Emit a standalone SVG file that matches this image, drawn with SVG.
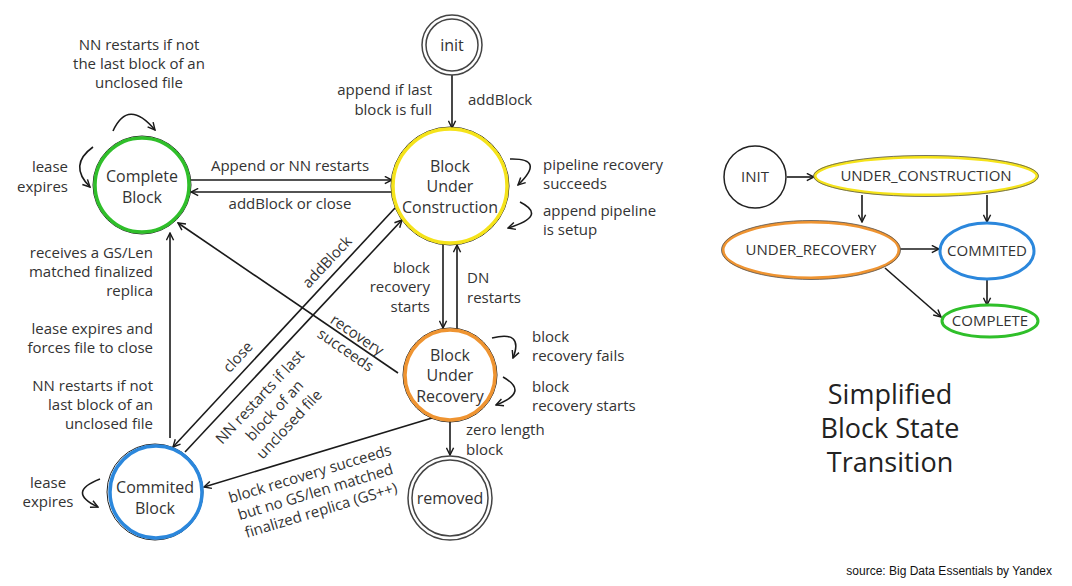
<svg xmlns="http://www.w3.org/2000/svg" width="1072" height="586" viewBox="0 0 1072 586">
<style>
text{font-family:"Open Sans","Noto Sans",sans-serif;fill:#333;}
.lb{font-size:15px;}
.nd{font-size:16px;text-anchor:middle;}
.sm{font-size:15px;text-anchor:middle;}
.e{text-anchor:end;}
.m{text-anchor:middle;}
.c{fill:#fff;}
.ln{fill:none;stroke:#1a1a1a;stroke-width:1.6;marker-end:url(#arr);}
.dbl{fill:none;stroke:#444;stroke-width:1.5;}
.tt{font-size:27px;text-anchor:middle;fill:#222;}
</style>
<defs>
<marker id="arr" viewBox="0 0 10 10" refX="9" refY="5" markerWidth="9" markerHeight="9" markerUnits="userSpaceOnUse" orient="auto">
<path d="M1,1 L9,5 L1,9" fill="none" stroke="#1a1a1a" stroke-width="1.6"/>
</marker>
</defs>
<rect width="1072" height="586" fill="#fff"/>

<g id="connectors">
<path class="ln" d="M452,75 L452,128"/>
<path class="ln" d="M190,180 L392,180"/>
<path class="ln" d="M393,192 L191,192"/>
<path class="ln" d="M113,131 Q128,98 155,130"/>
<path class="ln" d="M93,147 Q68,165 90,187"/>
<path class="ln" d="M510,159 Q546,158 518,185"/>
<path class="ln" d="M520,202 Q548,216 508,228"/>
<path class="ln" d="M170,438 L170,233"/>
<path class="ln" d="M395,208 L173,447"/>
<path class="ln" d="M185,452 L402,220"/>
<path class="ln" d="M398,373 L178,223"/>
<path class="ln" d="M443,243 L443,328"/>
<path class="ln" d="M457,330 L457,245"/>
<path class="ln" d="M492,338 Q524,330 513,358"/>
<path class="ln" d="M503,377 Q530,392 496,405"/>
<path class="ln" d="M450,420 L450,455"/>
<path class="ln" d="M432,418 L204,487"/>
<path class="ln" d="M100,479 Q66,492 98,507"/>
<path class="ln" d="M787,177 L814,177"/>
<path class="ln" d="M862,195 L862,222"/>
<path class="ln" d="M987,195 L987,222"/>
<path class="ln" d="M900,249 L939,249"/>
<path class="ln" d="M885,268 L941,317"/>
<path class="ln" d="M987,279 L987,305"/>
</g>

<g id="labels">
<text class="lb m" x="139" y="50">NN restarts if not</text>
<text class="lb m" x="139" y="69">the last block of an</text>
<text class="lb m" x="139" y="88">unclosed file</text>
<text class="lb e" x="68" y="172">lease</text>
<text class="lb e" x="68" y="192">expires</text>
<text class="lb m" x="290" y="171">Append or NN restarts</text>
<text class="lb m" x="290" y="209">addBlock or close</text>
<text class="lb e" x="432" y="95">append if last</text>
<text class="lb e" x="432" y="115">block is full</text>
<text class="lb" x="468" y="105">addBlock</text>
<text class="lb" x="543" y="170">pipeline recovery</text>
<text class="lb" x="543" y="189">succeeds</text>
<text class="lb" x="543" y="216">append pipeline</text>
<text class="lb" x="543" y="235">is setup</text>
<text class="lb e" x="153" y="258">receives a GS/Len</text>
<text class="lb e" x="153" y="277">matched finalized</text>
<text class="lb e" x="153" y="296">replica</text>
<text class="lb e" x="153" y="334">lease expires and</text>
<text class="lb e" x="153" y="353">forces file to close</text>
<text class="lb e" x="153" y="391">NN restarts if not</text>
<text class="lb e" x="153" y="410">last block of an</text>
<text class="lb e" x="153" y="429">unclosed file</text>
<text class="lb m" transform="translate(327,262) rotate(-47)" y="5">addBlock</text>
<text class="lb m" transform="translate(238,357) rotate(-47)" y="5">close</text>
<g transform="translate(260,397) rotate(-47)">
<text class="lb m" y="5">NN restarts if last</text>
<text class="lb m" y="25">block of an</text>
<text class="lb m" y="45">unclosed file</text>
</g>
<g transform="translate(357,335) rotate(34.3)">
<text class="lb m" y="5">recovery</text>
<text class="lb m" x="-1" y="24">succeeds</text>
</g>
<text class="lb e" x="430" y="273">block</text>
<text class="lb e" x="430" y="292">recovery</text>
<text class="lb e" x="430" y="312">starts</text>
<text class="lb" x="467" y="283">DN</text>
<text class="lb" x="467" y="303">restarts</text>
<text class="lb" x="532" y="342">block</text>
<text class="lb" x="532" y="361">recovery fails</text>
<text class="lb" x="532" y="392">block</text>
<text class="lb" x="532" y="411">recovery starts</text>
<text class="lb" x="466" y="435">zero length</text>
<text class="lb" x="466" y="455">block</text>
<g transform="translate(310,474) rotate(-16.8)">
<text class="lb m" y="5">block recovery succeeds</text>
<text class="lb m" y="24">but no GS/len matched</text>
<text class="lb m" y="43">finalized replica (GS++)</text>
</g>
<text class="lb m" x="48" y="488">lease</text>
<text class="lb m" x="48" y="507">expires</text>
<text class="tt" x="890" y="404">Simplified</text>
<text class="tt" x="890" y="438">Block State</text>
<text class="tt" x="890" y="472">Transition</text>
<text x="1052" y="575" style="font-family:'Liberation Sans',Arial,sans-serif;font-size:12px;text-anchor:end;fill:#111">source: Big Data Essentials by Yandex</text>
</g>

<g id="init">
<circle class="dbl" cx="452" cy="45" r="30"/>
<circle class="dbl" cx="452" cy="45" r="26"/>
<text class="nd" x="452" y="51">init</text>
</g>
<g id="block-under-construction">
<circle cx="450" cy="186" r="59" fill="none" stroke="#222" stroke-width="1"/>
<circle class="c" cx="450" cy="186" r="57" stroke="#f5e31a" stroke-width="3.5"/>
<text class="nd" x="450" y="172">Block</text>
<text class="nd" x="450" y="192">Under</text>
<text class="nd" x="450" y="213">Construction</text>
</g>
<g id="complete-block">
<circle cx="142" cy="185" r="49" fill="none" stroke="#222" stroke-width="1"/>
<circle class="c" cx="142" cy="185" r="47" stroke="#2fbf2a" stroke-width="3.5"/>
<text class="nd" x="142" y="182">Complete</text>
<text class="nd" x="142" y="203">Block</text>
</g>
<g id="block-under-recovery">
<circle cx="450" cy="375" r="47" fill="none" stroke="#222" stroke-width="1"/>
<circle class="c" cx="450" cy="375" r="45" stroke="#ef9431" stroke-width="3.5"/>
<text class="nd" x="450" y="361">Block</text>
<text class="nd" x="450" y="381">Under</text>
<text class="nd" x="450" y="402">Recovery</text>
</g>
<g id="commited-block">
<circle cx="155" cy="492" r="48" fill="none" stroke="#222" stroke-width="1"/>
<circle class="c" cx="156" cy="492" r="46" stroke="#2b87dc" stroke-width="3.5"/>
<text class="nd" x="155" y="493">Commited</text>
<text class="nd" x="155" y="514">Block</text>
</g>
<g id="removed">
<circle class="dbl" cx="450" cy="498" r="42"/>
<circle class="dbl" cx="450" cy="498" r="38"/>
<text class="nd" x="450" y="504">removed</text>
</g>

<g id="s-init">
<circle cx="755" cy="177" r="31" fill="#fff" stroke="#222" stroke-width="1.5"/>
<text class="sm" x="755" y="182">INIT</text>
</g>
<g id="s-under-construction">
<ellipse cx="926" cy="176" rx="111" ry="19" fill="#fff" stroke="#f5e31a" stroke-width="3"/>
<ellipse cx="926" cy="176" rx="112.5" ry="20.5" fill="none" stroke="#555" stroke-width="0.8"/>
<text class="sm" x="926" y="181">UNDER_CONSTRUCTION</text>
</g>
<g id="s-under-recovery">
<ellipse cx="811" cy="250" rx="88" ry="28" fill="#fff" stroke="#ef9431" stroke-width="3"/>
<ellipse cx="811" cy="250" rx="89.5" ry="29.5" fill="none" stroke="#555" stroke-width="0.8"/>
<text class="sm" x="811" y="255">UNDER_RECOVERY</text>
</g>
<g id="s-commited">
<ellipse cx="987" cy="251" rx="47" ry="28" fill="#fff" stroke="#2b87dc" stroke-width="3"/>
<text class="sm" x="987" y="256">COMMITED</text>
</g>
<g id="s-complete">
<ellipse cx="990" cy="321" rx="48" ry="16" fill="#fff" stroke="#2fbf2a" stroke-width="3"/>
<text class="sm" x="990" y="326">COMPLETE</text>
</g>
</svg>
